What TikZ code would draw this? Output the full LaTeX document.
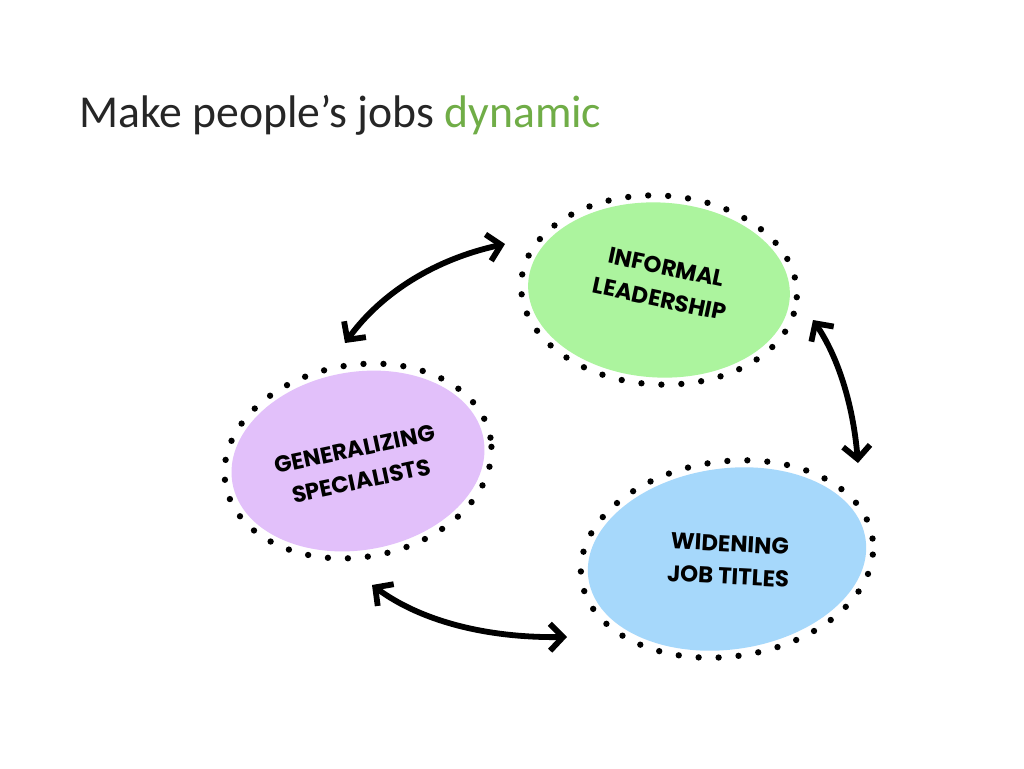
\documentclass[tikz,border=0pt]{standalone}
\usepackage{fontspec}
\setmainfont{Carlito}
\newfontfamily\handfont{Poppins}
\usetikzlibrary{shapes.geometric, arrows.meta, positioning}
\definecolor{titlecolor}{RGB}{38, 38, 38}
\definecolor{accentcolor}{RGB}{112, 173, 71}
\definecolor{greenblob}{RGB}{172, 244, 158}
\definecolor{purpleblob}{RGB}{226, 192, 250}
\definecolor{blueblob}{RGB}{166, 216, 251}
\tikzstyle{blob} = [ellipse, inner sep=0pt, draw=none]
\tikzstyle{ring} = [ellipse, inner sep=0pt, draw=black, line width=3.6pt, line cap=round, dash pattern=on 0pt off 0.4cm]
\tikzstyle{label} = [align=center, text=black, inner sep=1pt, font=\handfont\bfseries\fontsize{13}{18.5}\selectfont]
\tikzstyle{arrow} = [line width=3.3pt, {Straight Barb[length=2.6mm, width=5.4mm]}-{Straight Barb[length=2.6mm, width=5.4mm]}]

\begin{document}
\begin{tikzpicture}[x=0.02cm, y=-0.02cm]

\fill[white] (0,0) rectangle (1024,768);
\useasboundingbox (0,0) rectangle (1024,768);

% Title
\node (title) [anchor=base west, inner sep=0pt, text=titlecolor, font=\fontsize{26}{32}\selectfont] at (79,127) {Make people’s jobs \textcolor{accentcolor}{dynamic}};

% Blobs
\node (leadership) [blob, fill=greenblob, minimum width=5.24cm, minimum height=3.5cm, rotate=-3] at (659,290) {};
\node (leadershipring) [ring, minimum width=5.52cm, minimum height=3.78cm, rotate=-3] at (leadership) {};
\node (leadershiptext) [label, rotate=-12] at (663,283) {INFORMAL\\LEADERSHIP};

\node (generalizing) [blob, fill=purpleblob, minimum width=5.1cm, minimum height=3.56cm, rotate=10] at (358,461) {};
\node (generalizingring) [ring, minimum width=5.38cm, minimum height=3.84cm, rotate=10] at (generalizing) {};
\node (generalizingtext) [label, rotate=12] at (358,465) {GENERALIZING\\SPECIALISTS};

\node (titles) [blob, fill=blueblob, minimum width=5.6cm, minimum height=3.62cm, rotate=8] at (727,559) {};
\node (titlesring) [ring, minimum width=5.88cm, minimum height=3.9cm, rotate=8] at (titles) {};
\node (titlestext) [label, rotate=-3] at (729,560) {WIDENING\\JOB TITLES};

% Arrow ends
\coordinate (genTop) at (345,343);
\coordinate (leadLeft) at (505,244);
\coordinate (leadRight) at (813,320);
\coordinate (titlesTop) at (858,463);
\coordinate (genBottom) at (372,585);
\coordinate (titlesLeft) at (567,637);

% Arrows
\draw [arrow] (genTop) .. controls (382,292) and (436,259) .. (leadLeft);
\draw [arrow] (leadRight) .. controls (838,357) and (853,404) .. (titlesTop);
\draw [arrow] (genBottom) .. controls (421,621) and (486,638) .. (titlesLeft);

\end{tikzpicture}
\end{document}
